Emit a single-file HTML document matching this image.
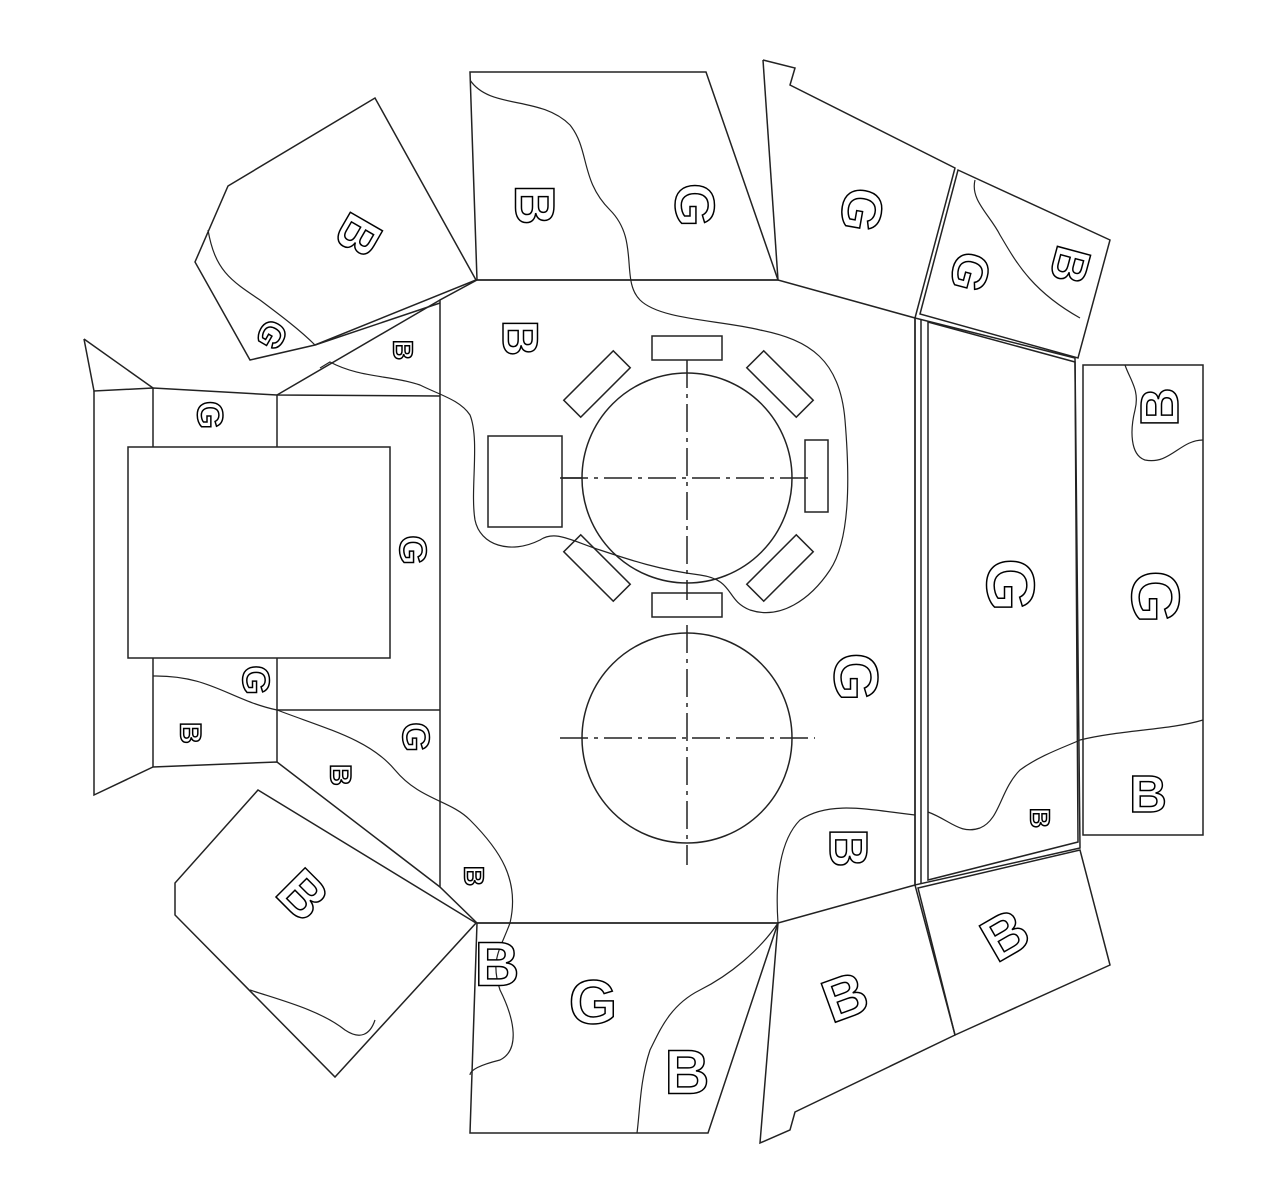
<!DOCTYPE html>
<html><head><style>
html,body{margin:0;padding:0;background:#fff;}
svg{display:block;}
text{font-family:"Liberation Sans",sans-serif;font-weight:bold;fill:#fff;stroke:#000;stroke-width:1.5;text-anchor:middle;dominant-baseline:central;}
</style></head><body>
<svg width="1284" height="1184" viewBox="0 0 1284 1184" xmlns="http://www.w3.org/2000/svg">
<g fill="none" stroke="#222" stroke-width="1.5">
<polygon points="477,280 778,280 915,318 915,885 778,923 477,923 440,887 440,300"/>
<polygon points="470,72 706,72 778,280 477,280"/>
<polyline points="763,60 795,68 790,85 955,168 915,318"/>
<line x1="763" y1="60" x2="778" y2="280"/>
<polygon points="958,170 1110,240 1078,358 920,314"/>
<polygon points="915,318 1075,358 1080,848 915,885"/>
<polygon points="928,322 1075,362 1078,842 928,880"/>
<line x1="921" y1="320" x2="921" y2="883"/>
<polygon points="1083,365 1203,365 1203,835 1083,835"/>
<polyline points="778,923 760,1143 790,1130 795,1112 955,1035 915,885"/>
<polygon points="918,888 1080,850 1110,965 955,1035"/>
<polygon points="477,923 778,923 708,1133 470,1133"/>
<polygon points="228,186 375,98 476,280 315,345 250,360 195,262"/>
<polyline points="440,300 277,395"/>
<polyline points="315,345 440,303"/>
<polyline points="84,339 153,388"/>
<polyline points="84,339 94,391 153,388 277,395 440,396"/>
<polyline points="94,391 94,795 153,767 277,762 440,887"/>
<rect x="128" y="447" width="262" height="211"/>
<line x1="153" y1="388" x2="153" y2="447"/>
<line x1="153" y1="658" x2="153" y2="767"/>
<line x1="277" y1="395" x2="277" y2="447"/>
<line x1="277" y1="658" x2="277" y2="762"/>
<line x1="277" y1="710" x2="440" y2="710"/>
<polygon points="258,790 476,923 335,1077 175,915 175,883"/>
<circle cx="687" cy="478" r="105"/>
<circle cx="687" cy="738" r="105"/>
<g stroke-dasharray="28,6,4,6">
<line x1="687" y1="360" x2="687" y2="600"/>
<line x1="560" y1="478" x2="810" y2="478"/>
<line x1="687" y1="625" x2="687" y2="865"/>
<line x1="560" y1="738" x2="815" y2="738"/>
</g>
<rect x="652" y="336" width="70" height="24"/>
<rect x="652" y="593" width="70" height="24"/>
<rect x="805" y="440" width="23" height="72"/>
<rect x="488" y="436" width="74" height="91"/>
<line x1="562" y1="478" x2="582" y2="478"/>
<rect x="-35" y="-12" width="70" height="24" transform="translate(597,384) rotate(-45)"/>
<rect x="-35" y="-12" width="70" height="24" transform="translate(780,384) rotate(45)"/>
<rect x="-35" y="-12" width="70" height="24" transform="translate(597,568) rotate(45)"/>
<rect x="-35" y="-12" width="70" height="24" transform="translate(780,568) rotate(-45)"/>
<g stroke-width="1.2">
<path d="M470,80 C490,110 540,95 570,125 C590,150 580,180 610,210 C640,240 620,280 640,300 C660,320 720,320 760,330 C810,340 840,360 845,420 C850,480 850,540 830,570 C810,600 780,620 750,610 C725,600 735,580 700,575 C660,570 630,560 600,550 C570,540 555,530 540,540 C510,555 480,545 475,520 C470,490 480,440 470,415 C460,400 440,395 420,385 C390,375 360,378 330,362 L320,368"/>
<path d="M208,230 C215,270 230,280 260,300 C280,315 300,330 315,345"/>
<path d="M153,676 C210,675 230,700 277,710 C330,730 370,740 395,770 C420,800 450,800 470,820 C500,850 520,880 510,923"/>
<path d="M510,923 C500,950 490,960 500,990 C515,1020 520,1050 500,1060 C480,1065 470,1070 470,1075"/>
<path d="M778,923 C760,950 730,975 700,990 C670,1005 660,1030 650,1050 C640,1080 640,1110 637,1133"/>
<path d="M778,923 C775,880 780,840 800,820 C830,800 870,810 915,815"/>
<path d="M928,812 C950,820 960,835 980,828 C1000,820 1000,790 1020,770 C1040,755 1070,745 1080,740 C1120,730 1170,730 1203,720"/>
<path d="M1125,365 C1130,380 1140,390 1135,410 C1130,430 1130,455 1145,460 C1170,465 1180,440 1203,440"/>
<path d="M975,180 C970,200 990,215 1000,235 C1015,260 1030,290 1080,318"/>
<path d="M250,990 C280,1000 320,1010 345,1030 C360,1040 370,1035 375,1020"/>
</g>
</g>
<text x="535" y="205" font-size="56" transform="rotate(90 535 205)">B</text>
<text x="695" y="205" font-size="56" transform="rotate(90 695 205)">G</text>
<text x="862" y="210" font-size="56" transform="rotate(100 862 210)">G</text>
<text x="970" y="272" font-size="50" transform="rotate(105 970 272)">G</text>
<text x="1070" y="265" font-size="50" transform="rotate(105 1070 265)">B</text>
<text x="358" y="235" font-size="54" transform="rotate(120 358 235)">B</text>
<text x="272" y="335" font-size="36" transform="rotate(120 272 335)">G</text>
<text x="403" y="350" font-size="28" transform="rotate(90 403 350)">B</text>
<text x="520" y="338" font-size="50" transform="rotate(90 520 338)">B</text>
<text x="210" y="415" font-size="36" transform="rotate(90 210 415)">G</text>
<text x="412" y="550" font-size="38" transform="rotate(90 412 550)">G</text>
<text x="255" y="680" font-size="38" transform="rotate(90 255 680)">G</text>
<text x="190" y="733" font-size="30" transform="rotate(90 190 733)">B</text>
<text x="415" y="737" font-size="38" transform="rotate(90 415 737)">G</text>
<text x="340" y="775" font-size="30" transform="rotate(90 340 775)">B</text>
<text x="474" y="876" font-size="28" transform="rotate(90 474 876)">B</text>
<text x="303" y="895" font-size="60" transform="rotate(45 303 895)">B</text>
<text x="855" y="677" font-size="62" transform="rotate(90 855 677)">G</text>
<text x="848" y="848" font-size="54" transform="rotate(90 848 848)">B</text>
<text x="1010" y="585" font-size="68" transform="rotate(90 1010 585)">G</text>
<text x="1155" y="597" font-size="68" transform="rotate(90 1155 597)">G</text>
<text x="1160" y="407" font-size="54" transform="rotate(-90 1160 407)">B</text>
<text x="1148" y="795" font-size="52">B</text>
<text x="1040" y="818" font-size="28" transform="rotate(90 1040 818)">B</text>
<text x="1005" y="935" font-size="60" transform="rotate(-30 1005 935)">B</text>
<text x="845" y="997" font-size="60" transform="rotate(-20 845 997)">B</text>
<text x="497" y="965" font-size="62">B</text>
<text x="593" y="1003" font-size="62">G</text>
<text x="687" y="1073" font-size="62">B</text>
</svg>
</body></html>
